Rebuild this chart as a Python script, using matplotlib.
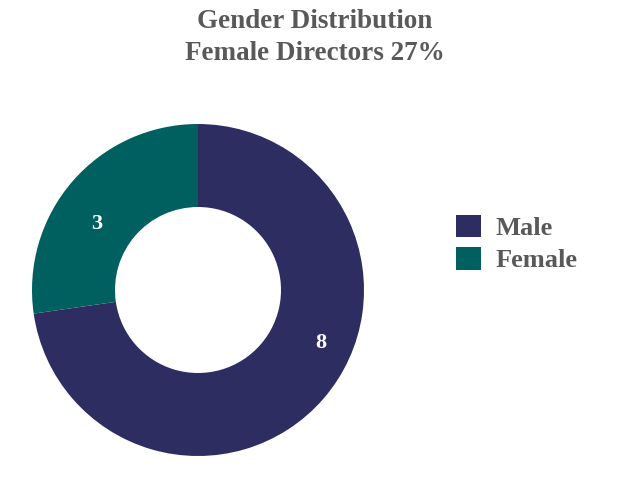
import matplotlib.pyplot as plt
from matplotlib.patches import Patch

# Board gender split
genders = ['Male', 'Female']
counts = [8, 3]
colors = ['#2e2d62', '#005f5f']

plt.rcParams['font.family'] = ['Liberation Serif', 'DejaVu Serif']

fig = plt.figure(figsize=(6.3, 4.86), dpi=100)
ax = fig.add_axes([32 / 630, 30 / 486, 332 / 630, 332 / 486])

total = sum(counts)
wedges, texts, autotexts = ax.pie(
    counts, colors=colors, startangle=90, counterclock=False,
    radius=1.0, wedgeprops=dict(width=0.5, edgecolor='none'),
    autopct=lambda p: f'{round(p * total / 100):d}', pctdistance=0.77,
    textprops=dict(color='white', fontsize=16, fontweight='bold'))
ax.set_xlim(-1, 1)
ax.set_ylim(-1, 1)
ax.set_aspect('equal')

# nudge the value labels to where the original report put them
autotexts[0].set_position((0.74, -0.32))
autotexts[1].set_position((-0.61, 0.40))

pct_female = round(100 * counts[1] / total)
fig.text(0.5, 0.955, 'Gender Distribution', ha='center', va='center',
         fontsize=19.5, fontweight='bold', color='#595959')
fig.text(0.5, 0.889, f'Female Directors {pct_female}%', ha='center', va='center',
         fontsize=19.5, fontweight='bold', color='#595959')

handles = [Patch(facecolor=c, edgecolor='none') for c in colors]
fig.legend(handles, genders, loc='center left', bbox_to_anchor=(0.724, 0.499),
           frameon=False, handlelength=0.95, handleheight=0.95,
           handletextpad=0.55, labelspacing=0.25, borderaxespad=0,
           borderpad=0, prop=dict(weight='bold', size=19))
for t in fig.legends[0].get_texts():
    t.set_color('#595959')

fig.savefig('out.png', dpi=100)
